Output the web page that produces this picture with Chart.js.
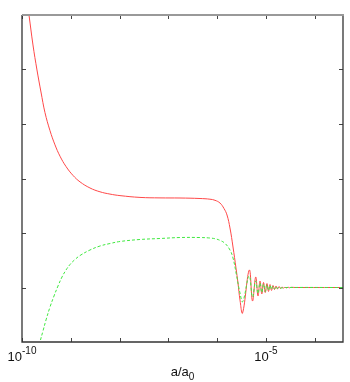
<!DOCTYPE html>
<html>
<head>
<meta charset="utf-8">
<script src="https://cdn.jsdelivr.net/npm/chart.js@4/dist/chart.umd.min.js"></script>
<style>
  html, body { margin: 0; padding: 0; background: #ffffff; }
  #wrap { width: 350px; height: 382px; }
</style>
</head>
<body>
<div id="wrap"><canvas id="c" width="350" height="382"></canvas></div>
<script>
// x values are log10(a/a0); y values in arbitrary units (unlabelled axis)
const redX = [-9.88, -9.857, -9.775, -9.693, -9.611, -9.529, -9.426, -9.324, -9.221, -9.098, -8.955, -8.811, -8.607, -8.402, -8.197, -7.992, -7.582, -7.172, -6.762, -6.352, -6.148, -6.045, -5.943, -5.861, -5.799, -5.738, -5.676, -5.615, -5.574, -5.533, -5.480,
  -5.342, -5.277, -5.211, -5.164, -5.123, -5.086, -5.051, -5.016, -4.980, -4.949, -4.918, -4.887, -4.857, -4.826, -4.795, -4.764, -4.734, -4.703, -4.672, -4.641, -4.611, -4.580, -4.549, -4.518, -4.488, -4.40, -3.422];
const redY = [6.13, 6.0, 5.450, 4.991, 4.587, 4.209, 3.877, 3.617, 3.409, 3.220, 3.057, 2.938, 2.826, 2.756, 2.714, 2.686, 2.653, 2.644, 2.642, 2.633, 2.620, 2.600, 2.550, 2.450, 2.330, 2.092, 1.743, 1.358, 1.083, 0.771, 0.532,
  1.321, 0.752, 1.193, 0.844, 1.119, 0.881, 1.092, 0.908, 1.073, 0.927, 1.055, 0.945, 1.037, 0.963, 1.028, 0.972, 1.018, 0.982, 1.009, 0.990, 1.005, 0.992, 1.006, 0.995, 1.003, 1.0, 1.0];

const greenX = [-9.662, -9.631, -9.570, -9.508, -9.426, -9.344, -9.262, -9.180, -9.098, -9.016, -8.914, -8.811, -8.607, -8.402, -8.197, -7.992, -7.582, -7.172, -6.762, -6.352, -6.148, -6.045, -5.943, -5.840, -5.738, -5.676, -5.605, -5.533, -5.477,
  -5.346, -5.277, -5.211, -5.164, -5.123, -5.086, -5.051, -5.016, -4.980, -4.949, -4.918, -4.887, -4.857, -4.826, -4.795, -4.764, -4.734, -4.703, -4.60, -3.422];
const greenY = [-0.147, 0.0, 0.202, 0.404, 0.642, 0.844, 1.028, 1.193, 1.321, 1.422, 1.514, 1.587, 1.688, 1.761, 1.807, 1.844, 1.881, 1.899, 1.917, 1.917, 1.908, 1.895, 1.865, 1.810, 1.688, 1.541, 1.229, 0.899, 0.739,
  1.211, 0.826, 1.119, 0.890, 1.083, 0.908, 1.064, 0.927, 1.055, 0.945, 1.037, 0.963, 1.028, 0.972, 1.018, 0.982, 1.009, 0.991, 1.0, 1.0];

const xTickValues = [-10, -9, -8, -7, -6, -5, -4];
const xTickLabelExps = [-10, -5];
const yTickValues = [1, 2, 3, 4, 5];
const xRange = [-10, -3.422];
const yRange = [0, 6];
const xTitle = ['a/a', '0'];

function pts(xs, ys) { return xs.map((x, i) => ({ x: x, y: ys[i] })); }

const framePlugin = {
  id: 'frame',
  afterDraw(chart) {
    const ctx = chart.ctx;
    const a = chart.chartArea;
    const xs = chart.scales.x, ys = chart.scales.y;
    ctx.save();
    ctx.strokeStyle = '#444';
    ctx.lineWidth = 1;
    ctx.beginPath();
    xTickValues.forEach(v => {
      const px = Math.round(xs.getPixelForValue(v)) + 0.5;
      ctx.moveTo(px, a.bottom); ctx.lineTo(px, a.bottom - 4);
      ctx.moveTo(px, a.top); ctx.lineTo(px, a.top + 4);
    });
    yTickValues.forEach(v => {
      const py = Math.round(ys.getPixelForValue(v)) + 0.5;
      ctx.moveTo(a.left, py); ctx.lineTo(a.left + 4, py);
      ctx.moveTo(a.right, py); ctx.lineTo(a.right - 4, py);
    });
    ctx.stroke();
    ctx.strokeStyle = '#333';
    ctx.lineWidth = 1.3;
    ctx.beginPath();
    ctx.moveTo(a.left, a.top); ctx.lineTo(a.left, a.bottom); ctx.lineTo(a.right, a.bottom); ctx.lineTo(a.right, a.top);
    ctx.stroke();
    ctx.strokeStyle = '#999';
    ctx.lineWidth = 2;
    ctx.beginPath();
    ctx.moveTo(a.left, a.top); ctx.lineTo(a.right + 1, a.top);
    ctx.stroke();
    ctx.fillStyle = '#111';
    ctx.textBaseline = 'alphabetic';
    ctx.textAlign = 'left';
    xTickLabelExps.forEach(e => {
      const cx = xs.getPixelForValue(e);
      ctx.font = '13px "Liberation Sans", Arial, sans-serif';
      const base = '10';
      const wb = ctx.measureText(base).width;
      ctx.font = '10px "Liberation Sans", Arial, sans-serif';
      const sup = String(e);
      const ws = ctx.measureText(sup).width;
      const start = cx - (wb + ws) / 2;
      ctx.font = '13px "Liberation Sans", Arial, sans-serif';
      ctx.fillText(base, start, a.bottom + 19);
      ctx.font = '10px "Liberation Sans", Arial, sans-serif';
      ctx.fillText(sup, start + wb, a.bottom + 12);
    });
    ctx.font = '13px "Liberation Sans", Arial, sans-serif';
    const wt = ctx.measureText(xTitle[0]).width;
    ctx.font = '10px "Liberation Sans", Arial, sans-serif';
    const wsub = ctx.measureText(xTitle[1]).width;
    const tx = (a.left + a.right) / 2 - (wt + wsub) / 2;
    ctx.font = '13px "Liberation Sans", Arial, sans-serif';
    ctx.fillText(xTitle[0], tx, a.bottom + 34);
    ctx.font = '10px "Liberation Sans", Arial, sans-serif';
    ctx.fillText(xTitle[1], tx + wt, a.bottom + 38);
    ctx.restore();
  }
};

new Chart(document.getElementById('c'), {
  type: 'line',
  data: {
    datasets: [
      {
        data: pts(greenX, greenY),
        borderColor: '#3fe83f',
        borderWidth: 1,
        borderDash: [3, 2],
        pointRadius: 0,
        tension: 0.4,
        fill: false
      },
      {
        data: pts(redX, redY),
        borderColor: '#ff4848',
        borderWidth: 1,
        pointRadius: 0,
        tension: 0.4,
        fill: false
      }
    ]
  },
  options: {
    responsive: false,
    animation: false,
    events: [],
    layout: { padding: { left: 22, top: 15, right: 7, bottom: 40 } },
    plugins: { legend: { display: false }, tooltip: { enabled: false } },
    scales: {
      x: { type: 'linear', min: xRange[0], max: xRange[1], display: false },
      y: { type: 'linear', min: yRange[0], max: yRange[1], display: false }
    }
  },
  plugins: [framePlugin]
});
</script>
</body>
</html>
